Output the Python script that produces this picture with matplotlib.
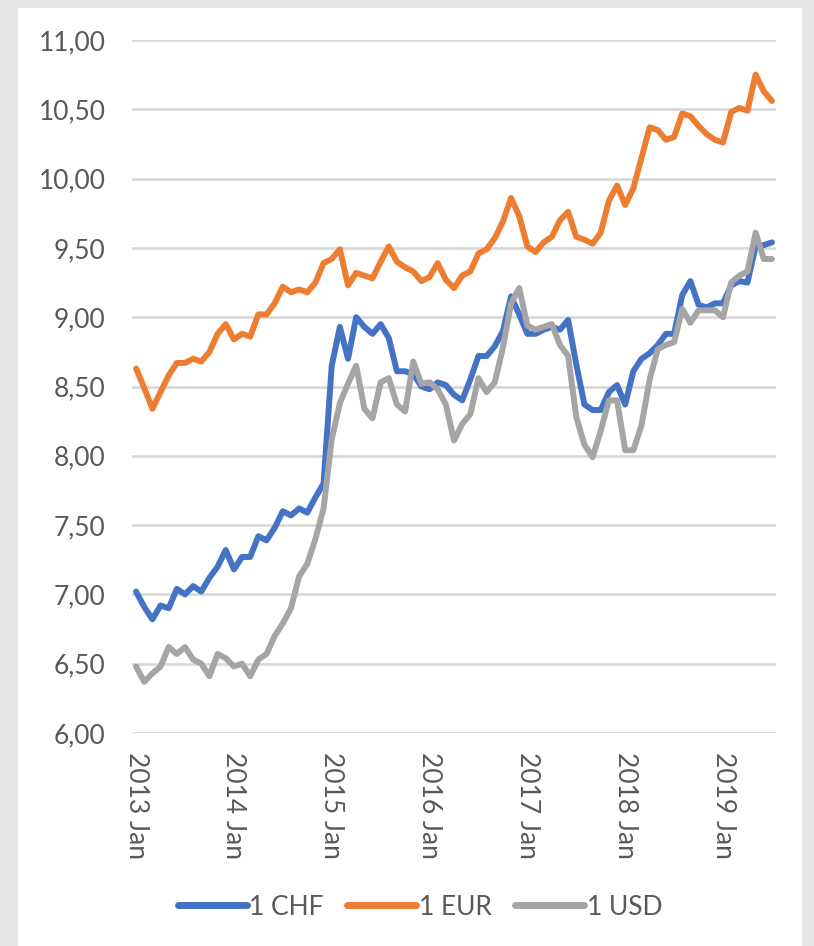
import matplotlib
matplotlib.use("Agg")
import matplotlib.pyplot as plt
from matplotlib.patches import Rectangle
from matplotlib.ticker import FuncFormatter

# monthly rates, 2013 Jan .. 2019 Jul
chf = [7.02, 6.91, 6.82, 6.92, 6.90, 7.04, 7.00, 7.06, 7.02, 7.12,
       7.20, 7.32, 7.18, 7.27, 7.27, 7.42, 7.39, 7.48, 7.60, 7.57,
       7.62, 7.59, 7.70, 7.80, 8.65, 8.93, 8.70, 9.00, 8.93, 8.88,
       8.95, 8.85, 8.61, 8.61, 8.59, 8.50, 8.48, 8.53, 8.51, 8.44,
       8.40, 8.55, 8.72, 8.72, 8.79, 8.90, 9.15, 9.02, 8.88, 8.88,
       8.91, 8.93, 8.91, 8.98, 8.66, 8.37, 8.33, 8.33, 8.46, 8.51,
       8.37, 8.61, 8.70, 8.74, 8.80, 8.88, 8.88, 9.16, 9.26, 9.09,
       9.07, 9.10, 9.10, 9.23, 9.26, 9.25, 9.51, 9.52, 9.54]
eur = [8.63, 8.49, 8.34, 8.46, 8.58, 8.67, 8.67, 8.70, 8.68, 8.75,
       8.88, 8.95, 8.84, 8.88, 8.86, 9.02, 9.02, 9.10, 9.22, 9.18,
       9.20, 9.18, 9.25, 9.39, 9.42, 9.49, 9.23, 9.32, 9.30, 9.28,
       9.40, 9.51, 9.40, 9.36, 9.33, 9.26, 9.29, 9.39, 9.27, 9.21,
       9.30, 9.33, 9.46, 9.49, 9.57, 9.69, 9.86, 9.73, 9.51, 9.47,
       9.54, 9.58, 9.70, 9.76, 9.58, 9.56, 9.53, 9.61, 9.84, 9.95,
       9.81, 9.93, 10.15, 10.37, 10.35, 10.28, 10.30, 10.47, 10.45, 10.38,
       10.32, 10.28, 10.26, 10.48, 10.51, 10.49, 10.75, 10.63, 10.56]
usd = [6.48, 6.37, 6.43, 6.48, 6.62, 6.57, 6.62, 6.53, 6.50, 6.41,
       6.57, 6.54, 6.48, 6.50, 6.41, 6.53, 6.57, 6.70, 6.79, 6.90,
       7.13, 7.22, 7.40, 7.62, 8.12, 8.38, 8.52, 8.65, 8.34, 8.27,
       8.53, 8.56, 8.37, 8.32, 8.68, 8.52, 8.53, 8.48, 8.37, 8.11,
       8.23, 8.30, 8.56, 8.46, 8.53, 8.78, 9.10, 9.21, 8.94, 8.91,
       8.93, 8.95, 8.80, 8.72, 8.28, 8.08, 7.99, 8.18, 8.40, 8.40,
       8.04, 8.04, 8.22, 8.55, 8.77, 8.80, 8.82, 9.06, 8.96, 9.05,
       9.05, 9.05, 9.00, 9.25, 9.30, 9.33, 9.61, 9.42, 9.42]
years = ["2013", "2014", "2015", "2016", "2017", "2018", "2019"]
tick_labels = [y + " Jan" for y in years]

plt.rcParams["font.family"] = ["Lato", "DejaVu Sans"]
text_col = "#595959"

fig = plt.figure(figsize=(8.14, 9.46), dpi=100, facecolor="#e7e6e6")
# white chart area on the grey page
fig.patches.append(Rectangle((18 / 814, 0), 784 / 814, 938 / 946,
                             transform=fig.transFigure, facecolor="white",
                             edgecolor="none", zorder=-10))

ax = fig.add_axes([132 / 814, 1 - 733 / 946, 644 / 814, 693 / 946])
ax.set_facecolor("none")
ax.set_zorder(1)

x = list(range(len(chf)))
style = dict(lw=4.3, solid_capstyle="round", solid_joinstyle="round", zorder=3)
ax.plot(x, chf, color="#4472C4", label="1 CHF", **style)
ax.plot(x, eur, color="#ED7D31", label="1 EUR", **style)
ax.plot(x, usd, color="#A5A5A5", label="1 USD", **style)

ax.set_xlim(-0.5, len(chf) - 0.5)
ax.set_ylim(6, 11)
ax.set_yticks([6 + 0.5 * k for k in range(11)])
ax.yaxis.set_major_formatter(FuncFormatter(lambda v, p: f"{v:.2f}".replace(".", ",")))
ax.set_xticks(x[::12])
ax.set_xticklabels(tick_labels, rotation=270)
ax.grid(axis="y", color="#d9d9d9", lw=2)
ax.set_axisbelow(True)
for s in ax.spines.values():
    s.set_visible(False)
ax.tick_params(axis="y", length=0, pad=19, labelsize=19, labelcolor=text_col)
ax.tick_params(axis="x", length=0, pad=14, labelsize=19, labelcolor=text_col)

leg = fig.legend(loc="center", bbox_to_anchor=(420 / 814, 1 - 907 / 946), ncol=3,
                 frameon=False, fontsize=19, labelcolor=text_col,
                 handlelength=2.6, handletextpad=0.1, columnspacing=0.9)
for h in leg.get_lines():
    h.set_linewidth(5)

fig.savefig("out.png", dpi=100, facecolor=fig.get_facecolor())
